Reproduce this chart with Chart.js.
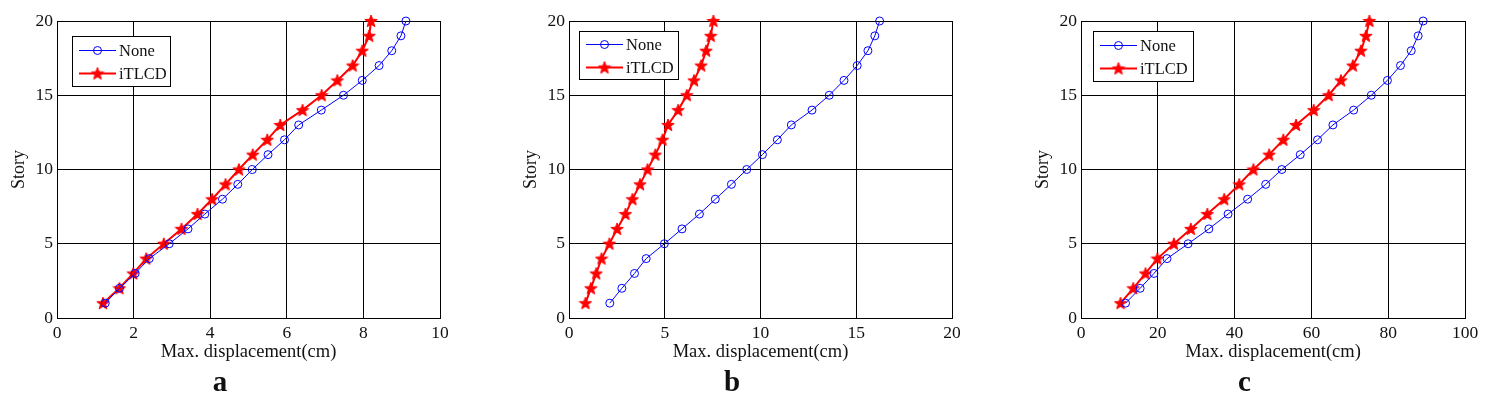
<!DOCTYPE html>
<html>
<head>
<meta charset="utf-8">
<script src="https://cdn.jsdelivr.net/npm/chart.js@4.4.0/dist/chart.umd.min.js"></script>
<style>
body { margin: 0; background: #fff; overflow: hidden; width: 1495px; height: 395px; position: relative; }
.plot { position: absolute; top: 0; width: 460px; height: 401px; }
</style>
</head>
<body>
<div class="plot" style="left:0px"><canvas id="chartA"></canvas></div>
<div class="plot" style="left:512px"><canvas id="chartB"></canvas></div>
<div class="plot" style="left:1024px; width:461px"><canvas id="chartC"></canvas></div>
<script>
// story numbers (y values)
var stories = [1,2,3,4,5,6,7,8,9,10,11,12,13,14,15,16,17,18,19,20];
var seriesNames = ['None', 'iTLCD'];

// max displacement (cm)
var noneA  = [1.26,1.63,2.04,2.41,2.93,3.42,3.86,4.32,4.72,5.10,5.51,5.94,6.31,6.90,7.48,7.97,8.41,8.74,8.98,9.11];
var itlcdA = [1.20,1.63,1.99,2.33,2.79,3.25,3.67,4.05,4.40,4.75,5.11,5.49,5.83,6.41,6.91,7.32,7.72,7.97,8.15,8.20];

var noneB  = [2.13,2.76,3.42,4.03,4.98,5.90,6.81,7.64,8.48,9.28,10.10,10.88,11.61,12.69,13.59,14.36,15.05,15.61,15.97,16.22];
var itlcdB = [0.86,1.14,1.42,1.70,2.11,2.51,2.95,3.31,3.71,4.10,4.51,4.88,5.17,5.70,6.15,6.53,6.90,7.16,7.40,7.54];

var noneC  = [11.6,15.4,19.0,22.4,27.9,33.3,38.3,43.4,48.1,52.3,57.1,61.6,65.6,71.0,75.6,79.8,83.2,86.0,87.8,89.1];
var itlcdC = [10.3,13.6,16.8,19.9,24.2,28.6,32.9,37.3,41.2,44.9,49.0,52.7,56.0,60.6,64.5,67.7,70.8,72.9,74.2,75.1];

// axis ranges
var xMaxA = 10, xStepA = 2;
var xMaxB = 20, xStepB = 5;
var xMaxC = 100, xStepC = 20;
var yMax = 20, yStep = 5;

var panelLetters = ['a', 'b', 'c'];
var xTitle = 'Max. displacement(cm)';
var yTitle = 'Story';

var serif = '"Liberation Serif", "Times New Roman", serif';
var textColor = '#111';

function makeStar(size, color) {
	var c = document.createElement('canvas');
	c.width = size;
	c.height = size;
	var g = c.getContext('2d');
	var cx = size / 2, cy = size / 2 + 0.5;
	var ro = size / 2 - 0.5, ri = ro * 0.42;
	g.beginPath();
	for (var i = 0; i < 10; i++) {
		var r = (i % 2 === 0) ? ro : ri;
		var a = -Math.PI / 2 + i * Math.PI / 5;
		g.lineTo(cx + r * Math.cos(a), cy + r * Math.sin(a));
	}
	g.closePath();
	g.fillStyle = color;
	g.fill();
	g.strokeStyle = color;
	g.lineWidth = 1;
	g.stroke();
	return c;
}
var starImg = makeStar(14, '#ff0000');

function toPoints(xs) {
	return xs.map(function(v, i) {
		return { x: v, y: stories[i] };
	});
}

// legend box drawn inside the plot, like the matlab one
var boxLegend = {
	id: 'boxLegend',
	afterDatasetsDraw: function(chart, args, opts) {
		var ctx = chart.ctx;
		var area = chart.chartArea;
		var x = Math.round(area.left + opts.x), y = Math.round(area.top + opts.y);
		var w = opts.width, h = opts.height;
		ctx.save();
		ctx.fillStyle = '#fff';
		ctx.fillRect(x, y, w, h);
		ctx.strokeStyle = '#000';
		ctx.lineWidth = 1;
		ctx.strokeRect(x + 0.5, y + 0.5, w, h);
		chart.data.datasets.forEach(function(ds, i) {
			var ry = Math.round(y + h / 2 + (i === 0 ? -11.5 : 11.5)) + 0.5;
			ctx.strokeStyle = ds.borderColor;
			ctx.lineWidth = ds.borderWidth;
			ctx.beginPath();
			ctx.moveTo(x + 7, ry);
			ctx.lineTo(x + 44, ry);
			ctx.stroke();
			if (ds.pointStyle === 'circle') {
				ctx.lineWidth = 1;
				ctx.beginPath();
				ctx.arc(x + 25.5, ry, ds.pointRadius, 0, Math.PI * 2);
				ctx.stroke();
			} else {
				ctx.drawImage(ds.pointStyle, x + 25.5 - ds.pointStyle.width / 2, ry - ds.pointStyle.height / 2);
			}
			ctx.fillStyle = textColor;
			ctx.font = '16.5px ' + serif;
			ctx.textBaseline = 'middle';
			ctx.textAlign = 'left';
			ctx.fillText(ds.label, x + 47, ry + 1);
		});
		ctx.restore();
	}
};

function makeChart(id, noneVals, itlcdVals, xMax, xStep, letter, legendPos) {
	var ctx = document.getElementById(id).getContext('2d');
	return new Chart(ctx, {
		type: 'scatter',
		data: {
			datasets: [{
				label: seriesNames[0],
				data: toPoints(noneVals),
				showLine: true,
				borderColor: '#0000ff',
				borderWidth: 1,
				backgroundColor: 'rgba(0,0,0,0)',
				pointStyle: 'circle',
				pointRadius: 4,
				pointBorderWidth: 1,
				pointBorderColor: '#0000ff',
				pointBackgroundColor: 'rgba(0,0,0,0)',
				clip: false
			}, {
				label: seriesNames[1],
				data: toPoints(itlcdVals),
				showLine: true,
				borderColor: '#ff0000',
				borderWidth: 2,
				backgroundColor: '#ff0000',
				pointStyle: starImg,
				pointRadius: 7,
				clip: false
			}]
		},
		options: {
			responsive: true,
			maintainAspectRatio: false,
			animation: false,
			events: [],
			layout: { padding: { top: 21, right: 20, left: 0, bottom: 0 } },
			scales: {
				x: {
					type: 'linear',
					min: 0,
					max: xMax,
					afterFit: function(scale) { scale.height = 48.2; },
					ticks: { stepSize: xStep, padding: 5, color: textColor, font: { family: serif, size: 17.5 } },
					grid: { color: '#000', lineWidth: 1, drawTicks: false },
					border: { color: '#000', width: 1 },
					title: { display: true, text: xTitle, color: textColor, font: { family: serif, size: 18.5 }, padding: { top: 0, bottom: 3 } }
				},
				y: {
					type: 'linear',
					min: 0,
					max: yMax,
					afterFit: function(scale) { scale.width = 57; },
					ticks: { stepSize: yStep, padding: 4, color: textColor, font: { family: serif, size: 17.5 } },
					grid: { color: '#000', lineWidth: 1, drawTicks: false },
					border: { color: '#000', width: 1 },
					title: { display: true, text: yTitle, color: textColor, font: { family: serif, size: 18 }, padding: { top: 8, bottom: 0 } }
				}
			},
			plugins: {
				legend: { display: false },
				tooltip: { enabled: false },
				title: {
					display: true,
					position: 'bottom',
					text: letter,
					color: textColor,
					font: { family: serif, size: 29, weight: 'bold' },
					padding: { top: 0, bottom: 0 }
				},
				boxLegend: legendPos
			}
		},
		plugins: [boxLegend]
	});
}

makeChart('chartA', noneA, itlcdA, xMaxA, xStepA, panelLetters[0], { x: 15, y: 15, width: 98, height: 50 });
makeChart('chartB', noneB, itlcdB, xMaxB, xStepB, panelLetters[1], { x: 10, y: 10, width: 99, height: 48 });
makeChart('chartC', noneC, itlcdC, xMaxC, xStepC, panelLetters[2], { x: 12, y: 10, width: 100, height: 50 });
</script>
</body>
</html>
